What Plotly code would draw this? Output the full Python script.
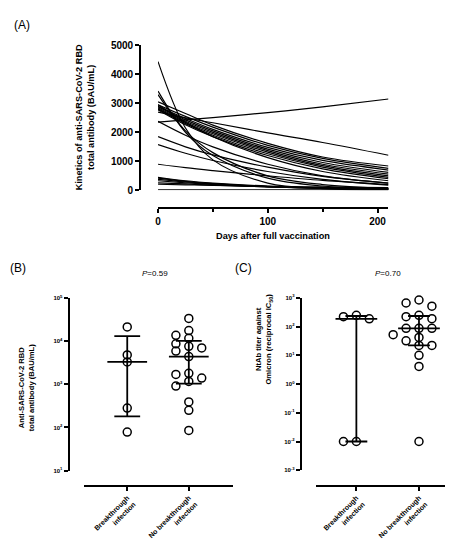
import numpy as np
import plotly.graph_objects as go

W, H = 453, 543

# ---------------- data ----------------
# Panel A: fitted kinetics read at these days (BAU/mL)
days = [0, 25, 50, 100, 150, 210]
kinetics_bau = [
    [4440, 2150, 1050, 250, 60, 15],
    [3420, 2000, 1200, 420, 150, 45],
    [3300, 2050, 1300, 500, 200, 70],
    [2350, 2430, 2510, 2680, 2880, 3150],
    [2700, 2500, 2330, 1980, 1650, 1210],
    [3050, 2650, 2250, 1620, 1150, 840],
    [2950, 2550, 2180, 1550, 1100, 760],
    [2900, 2480, 2100, 1480, 1030, 700],
    [2880, 2430, 2050, 1420, 960, 620],
    [2850, 2380, 2000, 1370, 900, 560],
    [2820, 2340, 1950, 1320, 850, 500],
    [2800, 2300, 1900, 1260, 800, 450],
    [2780, 2260, 1850, 1200, 740, 400],
    [2950, 2350, 1850, 1130, 650, 330],
    [2380, 1900, 1500, 900, 500, 250],
    [1850, 1500, 1220, 800, 480, 250],
    [1580, 1280, 1030, 650, 380, 180],
    [900, 780, 680, 500, 340, 200],
    [450, 330, 250, 150, 100, 70],
    [420, 310, 230, 130, 80, 50],
    [380, 290, 220, 130, 80, 45],
    [330, 260, 200, 120, 70, 40],
    [260, 220, 180, 120, 80, 50],
    [210, 190, 170, 140, 110, 90],
    [20, 20, 20, 20, 20, 20],
]
a_yticks = [0, 1000, 2000, 3000, 4000, 5000]
a_xticks = [0, 100, 200]
a_xminor = [50, 150]

groups = ["Breakthrough<br>infection", "No breakthrough<br>infection"]

# Panel B: anti-RBD total antibody (BAU/mL)
rbd_breakthrough = [21500, 4800, 3300, 282, 78]
rbd_no_breakthrough = [33700, 17700, 13700, 11700, 8700, 7600, 7000, 5900, 4400,
                       1800, 1700, 1400, 1170, 910, 390, 250, 85]
b_ticks = [1e1, 1e2, 1e3, 1e4, 1e5]
b_ticktext = ["10<sup>1</sup>", "10<sup>2</sup>", "10<sup>3</sup>", "10<sup>4</sup>", "10<sup>5</sup>"]

# Panel C: NtAb titer against Omicron
nab_breakthrough = [245, 220, 185, 0.01, 0.01]
nab_no_breakthrough = [840, 660, 510, 245, 220, 188, 87, 87, 87, 52, 42, 32, 22, 22, 10, 4.1, 0.01]
c_ticks = [1e-3, 1e-2, 1e-1, 1e0, 1e1, 1e2, 1e3]
c_ticktext = ["10<sup>-3</sup>", "10<sup>-2</sup>", "10<sup>-1</sup>", "10<sup>0</sup>",
              "10<sup>1</sup>", "10<sup>2</sup>", "10<sup>3</sup>"]

p_b = "<i>P</i>=0.59"
p_c = "<i>P</i>=0.70"

# ---------------- layout geometry (px) ----------------
FONT = "Liberation Sans"


def bold(t):
    return "<b>" + str(t) + "</b>"


def xd(a, b):
    return [a / W, b / W]


def yd(top, bottom):
    return [1 - bottom / H, 1 - top / H]


A_x = (148, 380); A_y = (33, 181); A_ypos = 130; A_xpos = 199
B_x = (73, 223); B_y = (291, 467); B_ypos = 58; B_xpos = 483
C_x = (306.7, 447.7); C_y = (290.7, 466.7); C_ypos = 291.7; C_xpos = 483
B_range = [-0.71, 1.71]
C_range = [-0.65, 1.587]

fig = go.Figure()

# Panel A lines
for vals in kinetics_bau:
    fig.add_trace(go.Scatter(x=days, y=vals, mode="lines",
                             line=dict(color="black", width=1.2, shape="spline", smoothing=1.0),
                             xaxis="x", yaxis="y", showlegend=False, hoverinfo="skip"))


def swarm(values, px_per_dec, d=6.9, s=13.0):
    lv = np.log10(np.array(values, dtype=float))
    order = np.argsort(-lv, kind="stable")
    placed = []
    offs = np.zeros(len(lv))
    cands = [0, -s, s, -2 * s, 2 * s, -3 * s, 3 * s]
    for i in order:
        y = lv[i] * px_per_dec
        chosen = cands[-1]
        for c in cands:
            if all((c - px) ** 2 + (y - py) ** 2 >= d * d for px, py in placed):
                chosen = c
                break
        placed.append((chosen, y))
        offs[i] = chosen
    return offs


def add_dot_panel(datasets, xa, ya, xdom_px, ydom_px, xrange, decades, med_half_px, cap_half_px):
    px_per_unit = (xdom_px[1] - xdom_px[0]) / (xrange[1] - xrange[0])
    px_per_dec = (ydom_px[1] - ydom_px[0]) / decades
    for gi, vals in enumerate(datasets):
        v = np.array(vals, dtype=float)
        med = np.median(v)
        q1 = np.percentile(v, 25, method="weibull")
        q3 = np.percentile(v, 75, method="weibull")
        mh = med_half_px / px_per_unit
        ch = cap_half_px / px_per_unit
        xs = [gi - mh, gi + mh, None, gi - ch, gi + ch, None, gi - ch, gi + ch, None, gi, gi]
        ys = [med, med, None, q1, q1, None, q3, q3, None, q1, q3]
        fig.add_trace(go.Scatter(x=xs, y=ys, mode="lines", line=dict(color="black", width=1.8),
                                 xaxis=xa, yaxis=ya, showlegend=False, hoverinfo="skip"))
        offs = swarm(v, px_per_dec)
        fig.add_trace(go.Scatter(x=gi + offs / px_per_unit, y=v, mode="markers",
                                 marker=dict(symbol="circle-open", size=8, color="black",
                                             line=dict(width=1.5, color="black")),
                                 xaxis=xa, yaxis=ya, showlegend=False, hoverinfo="skip",
                                 cliponaxis=False))


add_dot_panel([rbd_breakthrough, rbd_no_breakthrough], "x2", "y2", B_x, B_y, B_range, 4, 20, 13)
add_dot_panel([nab_breakthrough, nab_no_breakthrough], "x3", "y3", C_x, C_y, C_range, 6, 21, 11)

axis_common = dict(showgrid=False, zeroline=False, showline=True, linewidth=2, linecolor="black",
                   ticks="outside", tickwidth=2, ticklen=4, tickcolor="black")

fig.update_layout(
    width=W, height=H, margin=dict(l=0, r=0, t=0, b=0),
    paper_bgcolor="white", plot_bgcolor="white",
    font=dict(family=FONT, color="black"),
    xaxis=dict(domain=xd(*A_x), range=[0, 210], anchor="free", position=1 - A_xpos / H,
               tickvals=a_xticks, ticktext=[bold(t) for t in a_xticks], tickfont=dict(size=10),
               minor=dict(tickvals=a_xminor, ticks="outside", ticklen=3, tickwidth=2, tickcolor="black"),
               **axis_common),
    yaxis=dict(domain=yd(*A_y), range=[0, 5000], anchor="free", position=A_ypos / W,
               tickvals=a_yticks, ticktext=[bold(t) for t in a_yticks], tickfont=dict(size=10),
               **axis_common),
    xaxis2=dict(domain=xd(*B_x), range=B_range, anchor="free", position=1 - B_xpos / H,
                tickvals=[0, 1], ticktext=[bold(g) for g in groups], tickangle=-45,
                tickfont=dict(size=7), **axis_common),
    yaxis2=dict(domain=yd(*B_y), type="log", range=[1, 5], anchor="free", position=B_ypos / W,
                tickvals=b_ticks, ticktext=[bold(t) for t in b_ticktext], tickfont=dict(size=6),
                **axis_common),
    xaxis3=dict(domain=xd(*C_x), range=C_range, anchor="free", position=1 - C_xpos / H,
                tickvals=[0, 1], ticktext=[bold(g) for g in groups], tickangle=-45,
                tickfont=dict(size=7), **axis_common),
    yaxis3=dict(domain=yd(*C_y), type="log", range=[-3, 3], anchor="free", position=C_ypos / W,
                tickvals=c_ticks, ticktext=[bold(t) for t in c_ticktext], tickfont=dict(size=6),
                **axis_common),
)


def ann(text, x, y, size, angle=0):
    fig.add_annotation(text=text, x=x / W, y=1 - y / H, xref="paper", yref="paper",
                       showarrow=False, textangle=angle, xanchor="center", yanchor="middle",
                       font=dict(size=size, family=FONT, color="black"))


ann("(A)", 11, 12, 12)
ann("(B)", 7, 260, 12)
ann("(C)", 234, 260, 12)
ann(bold("Kinetics of anti-SARS-CoV-2 RBD<br>total antibody (BAU/mL)"), 74, 107, 9.2, angle=-90)
ann(bold("Days after full vaccination"), 264, 228, 9.2)
ann(bold("Anti-SARS-CoV-2 RBD<br>total antibody (BAU/mL)"), 15, 382, 7.6, angle=-90)
ann(bold("NtAb titer against<br>Omicron (reciprocal IC<sub>50</sub>)"), 254, 333, 7.6, angle=-90)
ann(p_b, 145, 266, 8)
ann(p_c, 380, 266, 8)

fig.write_html("out.html")
